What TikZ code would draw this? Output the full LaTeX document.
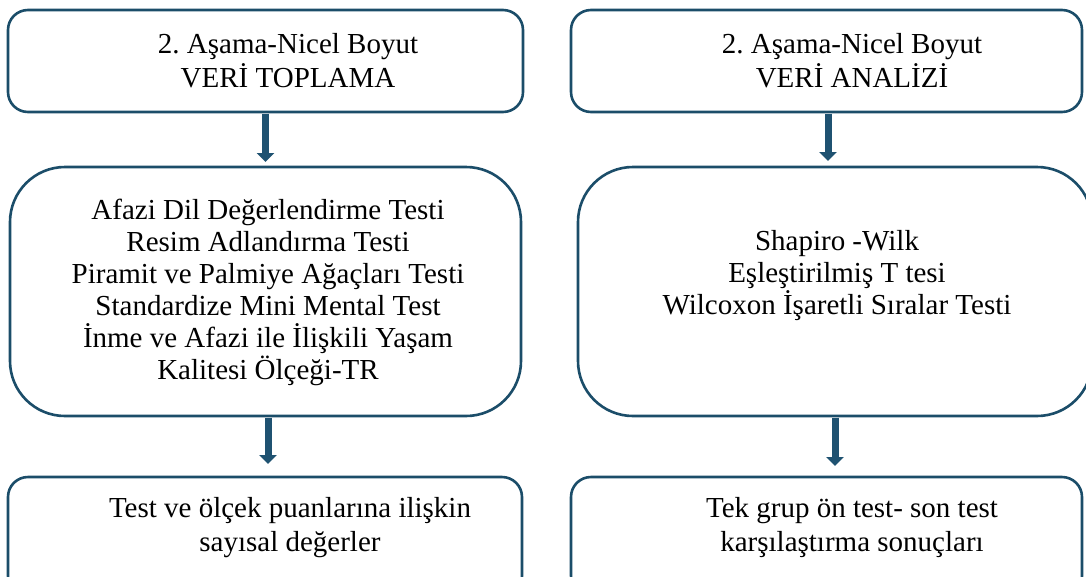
\documentclass[tikz,border=0pt]{standalone}
\usepackage{fontspec}
\setmainfont{Liberation Serif}
\frenchspacing
\usetikzlibrary{arrows.meta}
\definecolor{frame}{HTML}{1B4D69}
\definecolor{arrowc}{HTML}{1F5271}
\tikzset{
  box/.style={draw=frame, line width=2.6pt, fill=white},
  txt/.style={align=center, font=\fontsize{29}{34}\selectfont, inner sep=0pt},
  flow/.style={draw=arrowc, line width=7pt, -{Triangle[width=17pt,length=9pt]}, shorten >=0pt}
}
\begin{document}
\begin{tikzpicture}[x=1pt,y=-1pt]
\useasboundingbox (0,0) rectangle (1086,576);
\clip (0,0) rectangle (1086,576);
% left column
\draw[box, rounded corners=20pt] (8,10) rectangle (523,112);
\node[txt] (l1) at (288,61) {2. Aşama-Nicel Boyut\\VERİ TOPLAMA};
\draw[box, rounded corners=55pt] (10,167) rectangle (521,416);
\node[txt, font=\fontsize{29}{32}\selectfont] (l2) at (268,292) {Afazi Dil Değerlendirme Testi\\Resim Adlandırma Testi\\Piramit ve Palmiye Ağaçları Testi\\Standardize Mini Mental Test\\İnme ve Afazi ile İlişkili Yaşam\\Kalitesi Ölçeği-TR};
\draw[box, rounded corners=20pt] (8,477) rectangle (522,596);
\node[txt] (l3) at (290,528) {Test ve ölçek puanlarına ilişkin\\sayısal değerler};
% right column
\draw[box, rounded corners=20pt] (571,10) rectangle (1082,112);
\node[txt] (r1) at (852,61) {2. Aşama-Nicel Boyut\\VERİ ANALİZİ};
\draw[box, rounded corners=55pt] (578,167) rectangle (1092,416);
\node[txt, font=\fontsize{29}{32}\selectfont] (r2) at (837,276) {Shapiro -Wilk\\Eşleştirilmiş T tesi\\Wilcoxon İşaretli Sıralar Testi};
\draw[box, rounded corners=20pt] (571,477) rectangle (1082,596);
\node[txt] (r3) at (852,528) {Tek grup ön test- son test\\karşılaştırma sonuçları};
% arrows
\coordinate (a1s) at (265.5,113.5); \coordinate (a1e) at (265.5,162);
\coordinate (a2s) at (268,417.5); \coordinate (a2e) at (268,464);
\coordinate (a3s) at (828,113.5); \coordinate (a3e) at (828,161);
\coordinate (a4s) at (835,417.5); \coordinate (a4e) at (835,466);
\draw[flow] (a1s) -- (a1e);
\draw[flow] (a2s) -- (a2e);
\draw[flow] (a3s) -- (a3e);
\draw[flow] (a4s) -- (a4e);
\end{tikzpicture}
\end{document}
